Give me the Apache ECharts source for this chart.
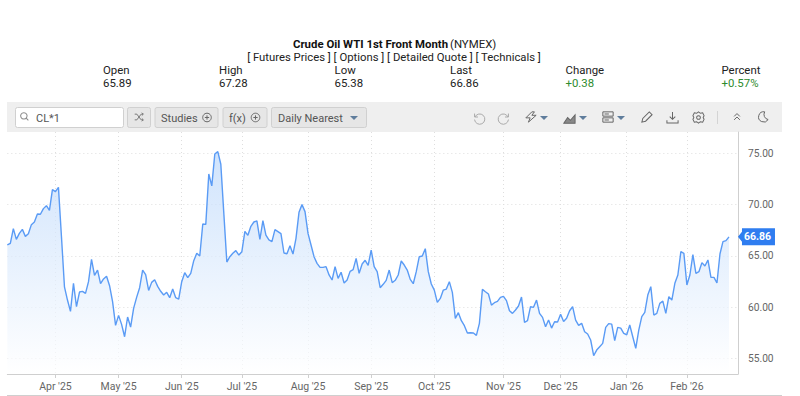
<!DOCTYPE html>
<html><head><meta charset="utf-8">
<style>html,body{margin:0;padding:0;background:#fff}#c{width:800px;height:396px}</style>
<script src="https://cdn.jsdelivr.net/npm/echarts@6/dist/echarts.min.js"></script>
</head><body><div id="c"></div>
<script>
const days = {
 '2025-03':[10,11,12,13,14,17,18,19,20,21,24,25,26,27,28,31],
 '2025-04':[1,2,3,4,7,8,9,10,11,14,15,16,17,21,22,23,24,25,28,29,30],
 '2025-05':[1,2,5,6,7,8,9,12,13,14,15,16,19,20,21,22,23,27,28,29,30],
 '2025-06':[2,3,4,5,6,9,10,11,12,13,16,17,18,20,23,24,25,26,27,30],
 '2025-07':[1,2,3,7,8,9,10,11,14,15,16,17,18,21,22,23,24,25,28,29,30,31],
 '2025-08':[1,4,5,6,7,8,11,12,13,14,15,18,19,20,21,22,25,26,27,28,29],
 '2025-09':[2,3,4,5,8,9,10,11,12,15,16,17,18,19,22,23,24,25,26,29,30],
 '2025-10':[1,2,3,6,7,8,9,10,13,14,15,16,17,20,21,22,23,24,27,28,29,30,31],
 '2025-11':[3,4,5,6,7,10,11,12,13,14,17,18,19,20,21,24,25,26,28],
 '2025-12':[1,2,3,4,5,8,9,10,11,12,15,16,17,18,19,22,23,24,26,29,30,31],
 '2026-01':[2,5,6,7,8,9,12,13,14,15,16,20,21,22,23,26,27,28,29,30],
 '2026-02':[2,3,4,5,6,9,10,11,12,13,17,18,19,20,23]
};
const monthLabels = ["Apr '25","May '25","Jun '25","Jul '25","Aug '25","Sep '25","Oct '25","Nov '25","Dec '25","Jan '26","Feb '26"];
const monthKeys = ['2025-04','2025-05','2025-06','2025-07','2025-08','2025-09','2025-10','2025-11','2025-12','2026-01','2026-02'];
const closes = [
66.07,66.23,67.66,66.62,67.2,67.59,66.91,67.17,68.05,68.31,69.09,69.06,69.61,69.9,69.44,71.46,71.26,71.68,
66.9,62.0,60.71,59.61,62.34,60.06,61.49,61.56,61.36,62.5,64.67,63.11,63.63,62.3,62.76,63.02,62.11,60.55,
58.24,59.22,58.34,57.14,59.06,58.08,59.9,60.97,61.91,63.63,63.18,61.65,62.43,62.69,62.04,61.56,61.2,61.46,60.94,61.78,60.94,60.81,
62.5,63.37,62.89,63.31,64.54,65.26,65.0,68.11,68.08,72.98,71.82,74.93,75.16,73.93,69.15,64.41,64.93,65.26,65.52,65.09,
65.42,67.4,67.01,67.89,68.31,68.41,66.62,68.44,67.04,66.56,66.39,67.56,67.37,67.17,65.29,65.22,66.0,65.19,66.72,69.25,70.0,69.32,
67.2,66.07,64.93,64.28,63.89,63.89,63.96,63.15,62.66,63.96,62.82,63.41,62.37,62.66,63.5,63.67,64.77,63.31,64.22,64.58,64.09,
65.58,63.96,63.47,61.91,62.24,62.63,63.63,62.4,62.63,63.15,64.51,64.12,63.63,62.72,62.3,63.47,64.93,65.0,65.71,63.47,62.27,
61.68,60.48,60.87,61.68,61.78,62.5,61.46,58.93,59.48,58.7,58.21,57.5,57.53,57.5,57.27,58.44,61.75,61.52,61.3,60.22,60.45,60.58,60.97,
61.07,60.65,59.67,59.41,59.74,60.13,61.0,58.54,58.7,60.06,60.0,60.71,59.41,59.02,58.11,58.76,57.98,58.6,58.57,59.32,
58.63,58.93,59.67,60.06,58.76,58.24,58.44,57.63,57.4,56.82,55.29,55.84,56.17,56.49,58.05,58.41,58.37,56.75,58.05,57.98,57.46,57.33,
58.28,57.14,56.0,57.79,59.09,59.51,61.2,62.01,59.25,59.41,60.39,60.61,59.41,61.04,60.71,62.34,63.15,65.42,65.26,
62.17,63.15,65.13,63.31,63.47,64.35,64.02,64.61,62.92,62.92,62.37,65.19,66.39,66.49,66.86
];
const yTicks = [55,60,65,70,75];
const lastPrice = 66.86;
const header = {
  title:'Crude Oil WTI 1st Front Month', exch:'(NYMEX)',
  links:'[ Futures Prices ] [ Options ] [ Detailed Quote ] [ Technicals ]',
  stats:[['Open','65.89',103],['High','67.28',219],['Low','65.38',334.5],['Last','66.86',450],['Change','+0.38',565.5],['Percent','+0.57%',721.5]]
};

const dates = [];
Object.keys(days).forEach(m => days[m].forEach(d => dates.push(m + '-' + String(d).padStart(2,'0'))));
const cats = dates.slice(0, closes.length);
const allCats = cats.concat(['', ' ', '  ']);
const labelOf = {};
monthKeys.forEach((k,i) => { const f = cats.find(d => d.startsWith(k)); labelOf[f] = monthLabels[i]; });
const isTick = (i, v) => !!labelOf[v];

const FH = 'Roboto,"Liberation Sans",sans-serif', FT = 'Roboto,"Noto Sans",sans-serif';
const g = [];
let iconId = 0;
const txt = (x,y,text,o={}) => g.push({type:'text',x,y,silent:true,style:Object.assign({text,fill:'#222',font:'11.4px '+FH,textVerticalAlign:'middle'},o)});
const rect = (x,y,w,h,fill,stroke,r=0) => g.push({type:'rect',silent:true,shape:{x,y,width:w,height:h,r},style:{fill,stroke:stroke||null,lineWidth:stroke?1:0}});
const ic = (x,y,d,o={}) => {
  const name = 'tbIcon' + (iconId++);
  echarts.graphic.registerShape(name, echarts.graphic.extendPath(d, {}));
  const sc = (o.w || 14) / 14;
  g.push({type:name,silent:true,x,y,scaleX:sc,scaleY:sc,style:Object.assign({fill:'none',stroke:'#777',lineWidth:1,strokeNoScale:true},o.s||{})});
};
const caret = (x,y) => g.push({type:'polygon',silent:true,shape:{points:[[x-4,y-2],[x+4,y-2],[x,y+2]]},style:{fill:'#5f7d9c'}});

// header
txt(293,44,header.title,{font:'bold 11.4px '+FH,fill:'#111'});
txt(450,44,header.exch,{fill:'#222'});
txt(394,57,header.links,{textAlign:'center',fill:'#222',font:'11.3px '+FH});
header.stats.forEach(s => {
  txt(s[2],70,s[0]);
  const up = s[1].startsWith('+');
  txt(s[2],83,s[1],{fill: up ? '#2e8b2e' : '#222'});
});
// toolbar
const TB = '11px '+FT;
rect(7,102,775,30,'#efefef');
rect(15.5,107.5,108,20,'#fff','#d0d0d0',2);
ic(20,112,'M6,1a5,5 0 1,0 0.01,0M10,10L13,13',{w:9,s:{stroke:'#888'}});
txt(36,118,'CL*1',{font:TB,fill:'#555'});
rect(127.5,107.5,23,20,'#e6e6e6','#d0d0d0',2);
ic(134,112,'M1,3H4L10,11H13M1,11H4L10,3H13M11,1L13,3L11,5M11,9L13,11L11,13',{w:10});
rect(155,107.5,63,20,'#e6e6e6','#d0d0d0',2);
txt(161,118,'Studies',{font:TB,fill:'#555'});
ic(202,112.5,'M7,1a6,6 0 1,0 0.01,0M7,4V10M4,7H10',{w:10,s:{stroke:'#666'}});
rect(223,107.5,44,20,'#e6e6e6','#d0d0d0',2);
txt(229,118,'f(x)',{font:TB,fill:'#555'});
ic(250.5,112.5,'M7,1a6,6 0 1,0 0.01,0M7,4V10M4,7H10',{w:10,s:{stroke:'#666'}});
rect(271.5,107.5,95,20,'#e6e6e6','#d0d0d0',2);
txt(278,118,'Daily Nearest',{font:TB,fill:'#555'});
caret(354,118);
// right icons
ic(472,111,'M3,3V7H7M3.5,7A6,6 0 1,1 3,10',{w:12,s:{stroke:'#aaa'}});
ic(499,111,'M11,3V7H7M10.5,7A6,6 0 1,0 11,10',{w:12,s:{stroke:'#aaa'}});
ic(525,111,'M8,1L1,8H6L4,13L13,5H8L11,1Z',{w:12,s:{stroke:'#666'}}); caret(544,118);
ic(563,112,'M1,12L5,6L8,9L13,3V12Z',{w:13,s:{stroke:'#666',fill:'#888'}}); caret(583,118);
ic(602,111,'M1,1H13V6H1ZM1,8H13V13H1ZM3,3.5H8M3,10.5H8',{w:12,s:{stroke:'#666'}}); caret(621,118);
ic(640,111,'M2,12L3,8L10,1L13,4L6,11Z',{w:13,s:{stroke:'#666'}});
ic(666,111,'M7,1V9M4,6L7,9L10,6M1,10V13H13V10',{w:13,s:{stroke:'#666'}});
ic(692,111,'M7,1L9,2.5L11.5,2L13,5L12,7L13,9L11.5,12L9,11.5L7,13L5,11.5L2.5,12L1,9L2,7L1,5L2.5,2L5,2.5ZM7,5a2,2 0 1,0 0.01,0',{w:13,s:{stroke:'#666'}});
g.push({type:'line',silent:true,shape:{x1:717.5,y1:111,x2:717.5,y2:124},style:{stroke:'#d4d4d4'}});
ic(733,113,'M2,6L7,1L12,6M2,12L7,7L12,12',{w:8,s:{stroke:'#666'}});
ic(757,111,'M9,1A6,6 0 1,0 13,10A6,6 0 0,1 9,1Z',{w:12,s:{stroke:'#666'}});
// bottom rule
g.push({type:'line',silent:true,shape:{x1:7,y1:395.5,x2:782,y2:395.5},style:{stroke:'#cfcfcf'}});

const chart = echarts.init(document.getElementById('c'),null,{renderer:'svg',width:800,height:396});
chart.setOption({
  animation:false,
  backgroundColor:'#fff',
  grid:{left:7.33,right:62,top:132,bottom:22},
  graphic:g,
  xAxis:{type:'category',data:allCats,boundaryGap:false,
    axisLine:{lineStyle:{color:'#cfcfcf',width:1}},
    axisTick:{interval:isTick,length:4,lineStyle:{color:'#cfcfcf'}},
    splitLine:{show:true,interval:isTick,lineStyle:{color:'#dedede',type:[1,3],width:1}},
    axisLabel:{interval:isTick,formatter:v=>labelOf[v]||'',color:'#666',fontSize:10.5,fontFamily:FT,margin:7}},
  yAxis:{type:'value',position:'right',min:53.51,max:77.07,
    axisLine:{show:true,lineStyle:{color:'#cfcfcf',width:1}},
    axisTick:{show:false,customValues:yTicks},
    splitLine:{show:true,lineStyle:{color:'#dedede',type:[1,3],width:1}},
    axisLabel:{customValues:yTicks,formatter:v=>v.toFixed(2),color:'#666',fontSize:10.2,fontFamily:FT,margin:10}},
  series:[{type:'line',data:closes,symbol:'none',smooth:false,z:3,clip:false,
    lineStyle:{color:'#5a9bf5',width:1.4},
    areaStyle:{origin:'start',color:new echarts.graphic.LinearGradient(0,0,0,1,[{offset:0,color:'#bcd8fb'},{offset:1,color:'#ffffff'}])},
    markPoint:{silent:true,animation:false,data:[{coord:[cats[cats.length-1],lastPrice],value:lastPrice}],
      symbol:'path://M0,8.5L4,3.5L4,0L37,0L37,17L4,17L4,13.5Z',symbolKeepAspect:false,symbolSize:[37,17],symbolOffset:[27.5,0],
      itemStyle:{color:'#2f7df0'},
      label:{show:true,position:'inside',offset:[1,0],formatter:lastPrice.toFixed(2),color:'#fff',fontFamily:FT,fontWeight:'bold',fontSize:10.5}}
  }]
});
</script></body></html>
